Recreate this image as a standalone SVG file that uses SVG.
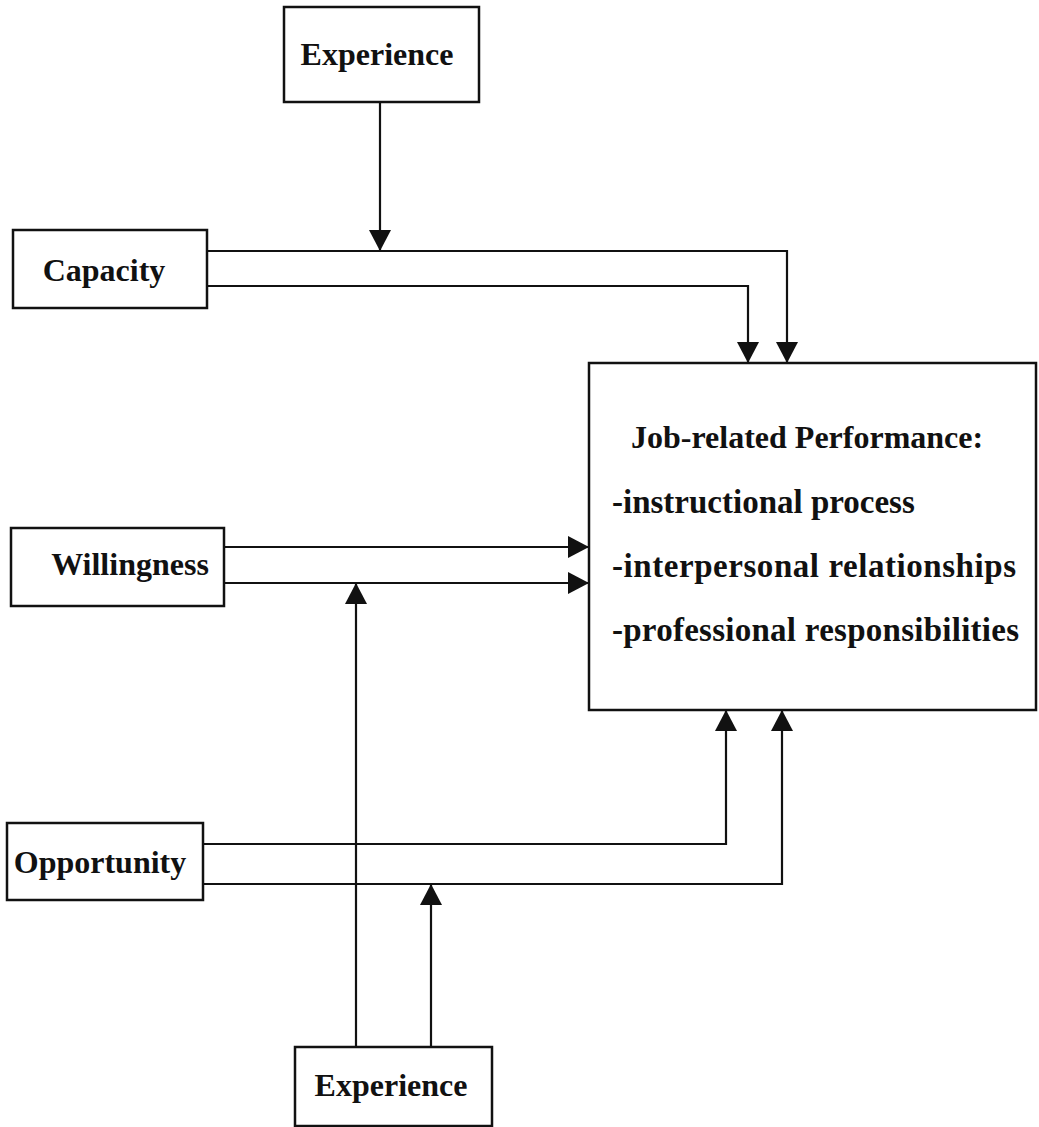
<svg xmlns="http://www.w3.org/2000/svg" width="1039" height="1127" viewBox="0 0 1039 1127">
<style>
.box{fill:none;stroke:#111;stroke-width:2.5}
.lbl{font-family:"Liberation Serif","Times New Roman",serif;font-weight:bold;font-size:32px;fill:#111}
.bul{font-size:33px}
.mid{text-anchor:middle}
.con{fill:none;stroke:#111;stroke-width:2.2}
</style>
<defs>
<marker id="ah" markerUnits="userSpaceOnUse" markerWidth="22" markerHeight="22" refX="21" refY="11" orient="auto" viewBox="0 0 22 22">
<path d="M0,0 L21,11 L0,22 z" fill="#111"/>
</marker>
</defs>
<rect width="1039" height="1127" fill="#fff"/>
<g id="connectors">
<path class="con" d="M380,102 V251" marker-end="url(#ah)"/>
<path class="con" d="M207,251 H787 V363" marker-end="url(#ah)"/>
<path class="con" d="M207,286 H748 V363" marker-end="url(#ah)"/>
<path class="con" d="M224,547 H589" marker-end="url(#ah)"/>
<path class="con" d="M224,583 H589" marker-end="url(#ah)"/>
<path class="con" d="M356,1047 V583" marker-end="url(#ah)"/>
<path class="con" d="M203,844 H726 V710" marker-end="url(#ah)"/>
<path class="con" d="M203,884 H782 V710" marker-end="url(#ah)"/>
<path class="con" d="M431,1047 V884" marker-end="url(#ah)"/>
</g>
<g id="experience-top">
<rect class="box" x="284" y="7" width="195" height="95"/>
<text class="lbl mid" x="377" y="65">Experience</text>
</g>
<g id="capacity">
<rect class="box" x="13" y="230" width="194" height="78"/>
<text class="lbl mid" x="104" y="281">Capacity</text>
</g>
<g id="willingness">
<rect class="box" x="11" y="528" width="213" height="78"/>
<text class="lbl mid" x="130" y="575">Willingness</text>
</g>
<g id="opportunity">
<rect class="box" x="7" y="823" width="196" height="77"/>
<text class="lbl mid" x="100" y="873">Opportunity</text>
</g>
<g id="performance">
<rect class="box" x="589" y="363" width="447" height="347"/>
<text class="lbl" x="631" y="448">Job-related Performance:</text>
<text class="lbl bul" x="612" y="513">-instructional process</text>
<text class="lbl bul" x="612" y="577" textLength="404">-interpersonal relationships</text>
<text class="lbl bul" x="612" y="641" textLength="407">-professional responsibilities</text>
</g>
<g id="experience-bottom">
<rect class="box" x="295" y="1047" width="197" height="79"/>
<text class="lbl mid" x="391" y="1096">Experience</text>
</g>
</svg>
